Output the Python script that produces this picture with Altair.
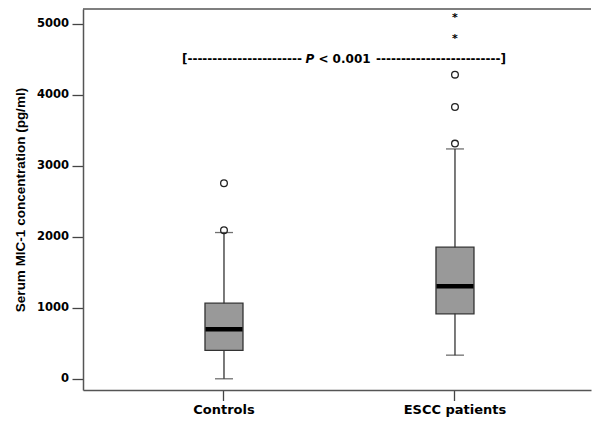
import altair as alt
import pandas as pd

# ---- data ----
groups = ["Controls", "ESCC patients"]
q1 = [399, 915]
median = [699, 1304]
q3 = [1065, 1854]
whisker_low = [0, 333]
whisker_high = [2061, 3239]

outlier_group = ["Controls", "Controls", "ESCC patients", "ESCC patients", "ESCC patients"]
outlier_value = [2755, 2093, 3314, 3831, 4286]

extreme_group = ["ESCC patients", "ESCC patients"]
extreme_value = [4835, 5131]

y_ticks = [0, 1000, 2000, 3000, 4000, 5000]
p_label_level = 4448
p_left = "[" + "-" * 23
p_letter = "P"
p_mid = "< 0.001"
p_right = "-" * 25 + "]"

# ---- tables ----
stats = pd.DataFrame({"group": groups, "q1": q1, "median": median, "q3": q3,
                      "lo": whisker_low, "hi": whisker_high})
outl = pd.DataFrame({"group": outlier_group, "value": outlier_value})
extr = pd.DataFrame({"group": extreme_group, "value": extreme_value, "star": ["*"] * len(extreme_value)})

W, H = 508, 381

xscale = alt.Scale(domain=groups, paddingInner=0, paddingOuter=0.0996, align=0.554)
yscale = alt.Scale(domain=[-158, 5211], nice=False, zero=False)

xaxis = alt.Axis(title=None, labelFont="DejaVu Sans", labelFontWeight="bold", labelFontSize=13,
                 labelColor="#000", tickSize=10.5, labelPadding=3, labelAngle=0,
                 domainColor="#555", domainWidth=1.5, tickColor="#444", tickWidth=1.3, grid=False)
yaxis = alt.Axis(title="Serum MIC-1 concentration (pg/ml)", values=y_ticks, format="d",
                 labelFont="DejaVu Sans", labelFontWeight="bold", labelFontSize=11.5,
                 labelColor="#000", tickSize=11, labelPadding=3.5,
                 domainColor="#555", domainWidth=1.5, tickColor="#444", tickWidth=1.3, grid=False,
                 titleFont="Liberation Sans", titleFontWeight="bold", titleFontSize=13.5,
                 titleColor="#000", titleAngle=270, titleX=-63, titleY=H / 2,
                 titleAlign="center", titleBaseline="middle")


def X(**kw):
    return alt.X("group:N", scale=xscale, axis=xaxis, sort=groups, **kw)


def Y(field):
    return alt.Y(f"{field}:Q", scale=yscale, axis=yaxis)


base = alt.Chart(stats)

whisker = base.mark_rule(color="#333", strokeWidth=1.3).encode(x=X(), y=Y("lo"), y2="hi:Q")
cap_lo = base.mark_tick(color="#333", size=18, thickness=1.3).encode(x=X(), y=Y("lo"))
cap_hi = base.mark_tick(color="#333", size=18, thickness=1.3).encode(x=X(), y=Y("hi"))
box = base.mark_bar(size=38, color="#999999", stroke="#333", strokeWidth=1.3).encode(
    x=X(), y=Y("q1"), y2="q3:Q")
med = base.mark_tick(color="#000", size=37, thickness=4.5, opacity=1).encode(x=X(), y=Y("median"))

pts = alt.Chart(outl).mark_point(shape="circle", filled=False, size=45, color="#222",
                                 strokeWidth=1.3, opacity=1).encode(x=X(), y=Y("value"))
stars = alt.Chart(extr).mark_text(font="DejaVu Sans", fontSize=11, fontWeight="bold", color="#000",
                                  baseline="alphabetic", dy=6).encode(x=X(), y=Y("value"), text="star:N")

ann_df = pd.DataFrame({"group": [groups[0]], "level": [p_label_level],
                       "t1": [p_left], "t2": [p_letter], "t3": [p_mid], "t4": [p_right]})
ann = alt.Chart(ann_df)
tstyle = dict(font="DejaVu Sans", fontSize=12, fontWeight="bold", color="#000", baseline="alphabetic")
a1 = ann.mark_text(align="right", dx=-37.5, **tstyle).encode(x=X(bandPosition=1), y=Y("level"), text="t1:N")
a2 = ann.mark_text(align="center", dx=-29.5, fontStyle="italic", **tstyle).encode(
    x=X(bandPosition=1), y=Y("level"), text="t2:N")
a3 = ann.mark_text(align="center", dx=5, **tstyle).encode(x=X(bandPosition=1), y=Y("level"), text="t3:N")
a4 = ann.mark_text(align="left", dx=36.5, **tstyle).encode(x=X(bandPosition=1), y=Y("level"), text="t4:N")

top_line = alt.Chart(ann_df).mark_rule(color="#555", strokeWidth=1.5).encode(
    x=alt.value(0), x2=alt.value(W), y=alt.value(0))

chart = alt.layer(whisker, cap_lo, cap_hi, box, med, pts, stars, a1, a2, a3, a4, top_line).properties(
    width=W, height=H,
    autosize=alt.AutoSizeParams(type="none"),
    padding={"left": 83, "top": 9, "right": 1, "bottom": 33},
    background="white",
).configure_view(stroke=None)

chart.save("out.html", embed_options={"renderer": "svg", "actions": False})
